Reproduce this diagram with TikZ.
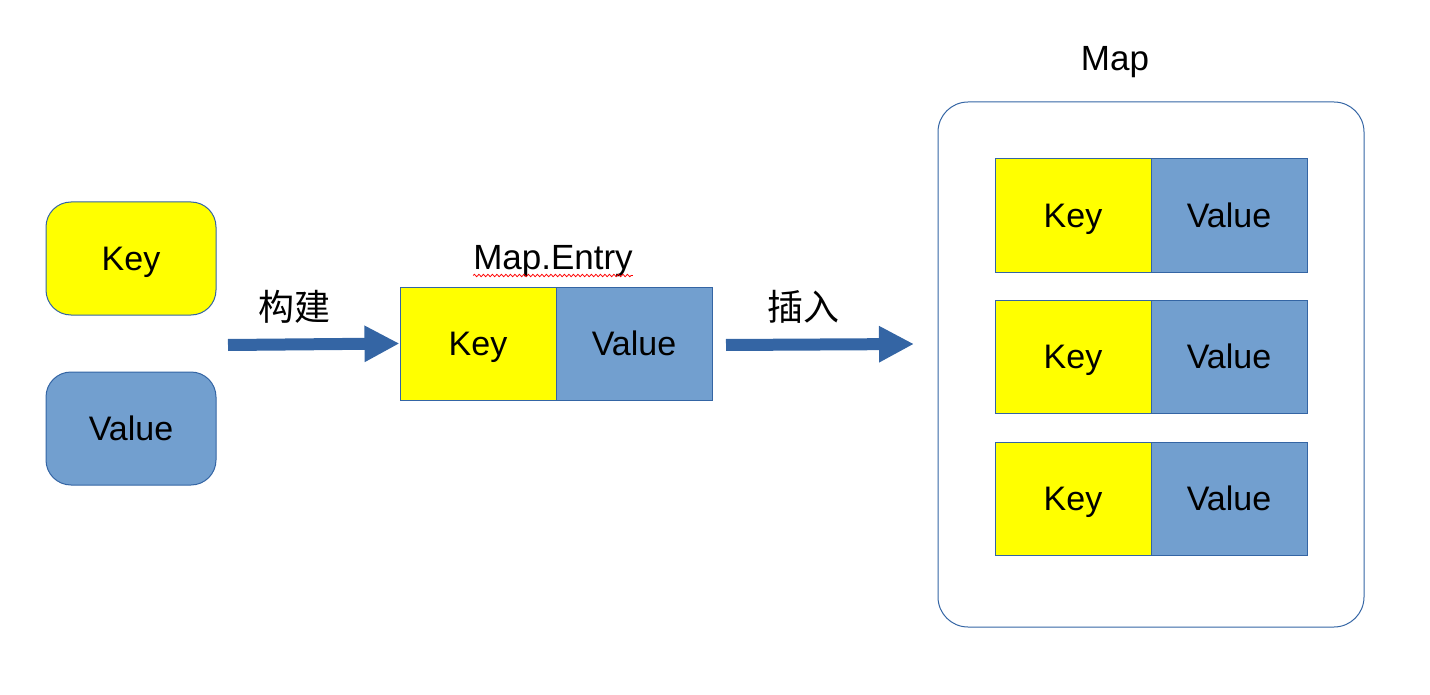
\documentclass[tikz,border=0pt]{standalone}
\usepackage{fontspec}
\setmainfont{Liberation Sans}
\newfontfamily\cjk{Noto Sans CJK SC}
\usetikzlibrary{arrows.meta,decorations.pathmorphing}
\definecolor{keyyellow}{HTML}{FFFF00}
\definecolor{valblue}{HTML}{729FCF}
\definecolor{lineblue}{HTML}{3465A4}
\tikzset{
	cell/.style={draw=lineblue, line width=1pt, minimum width=156pt, minimum height=113pt, inner sep=0pt, text height=24.3pt, text depth=0pt, font=\fontsize{34}{40}\selectfont},
	keycell/.style={cell, fill=keyyellow},
	valcell/.style={cell, fill=valblue},
	roundbox/.style={cell, minimum width=170pt, rounded corners=25pt},
	title/.style={inner sep=0pt, text height=25pt, text depth=0pt, font=\fontsize{35}{42}\selectfont},
	cjklabel/.style={inner sep=0pt, font=\cjk\fontsize{36}{42}\selectfont},
	bigarrow/.style={draw=lineblue, line width=12pt, -{Triangle[length=35pt,width=34pt]}},
}
\begin{document}
\begin{tikzpicture}[x=1pt,y=-1pt]
	\useasboundingbox (0,0) rectangle (1430,695);
	\node[roundbox, fill=keyyellow] (key) at (131,258.5) {Key};
	\node[roundbox, fill=valblue] (value) at (131,428.5) {Value};
	\node[keycell] (ekey) at (478,343.5) {Key};
	\node[valcell] (evalue) at (634,343.5) {Value};
	\node[title] (entry) at (553,257) {Map.Entry};
	\draw[red, line width=0.8pt, decorate, decoration={snake, amplitude=1.2pt, segment length=4.5pt}]
		([yshift=-6pt]entry.base west) -- ([yshift=-6pt]entry.base east);
	\node[cjklabel] (build) at (294,307) {构建};
	\node[cjklabel] (insert) at (803,307) {插入};
	\coordinate (buildstart) at (228,345);
	\coordinate (insstart) at (726,345);
	\coordinate (insend) at (914,344);
	\draw[bigarrow] (buildstart) -- (ekey.west);
	\draw[bigarrow] (insstart) -- (insend);
	\node[draw=lineblue, line width=1pt, rounded corners=30pt, minimum width=426pt, minimum height=525pt, inner sep=0pt] (map) at (1151,364.5) {};
	\node[title] (maptitle) at (1115,58) {Map};
	\foreach \row/\y in {1/215.5, 2/356.5, 3/498.5} {
		\node[keycell] (mkey\row) at (1073,\y) {Key};
		\node[valcell] (mvalue\row) at (1229,\y) {Value};
	}
\end{tikzpicture}
\end{document}
